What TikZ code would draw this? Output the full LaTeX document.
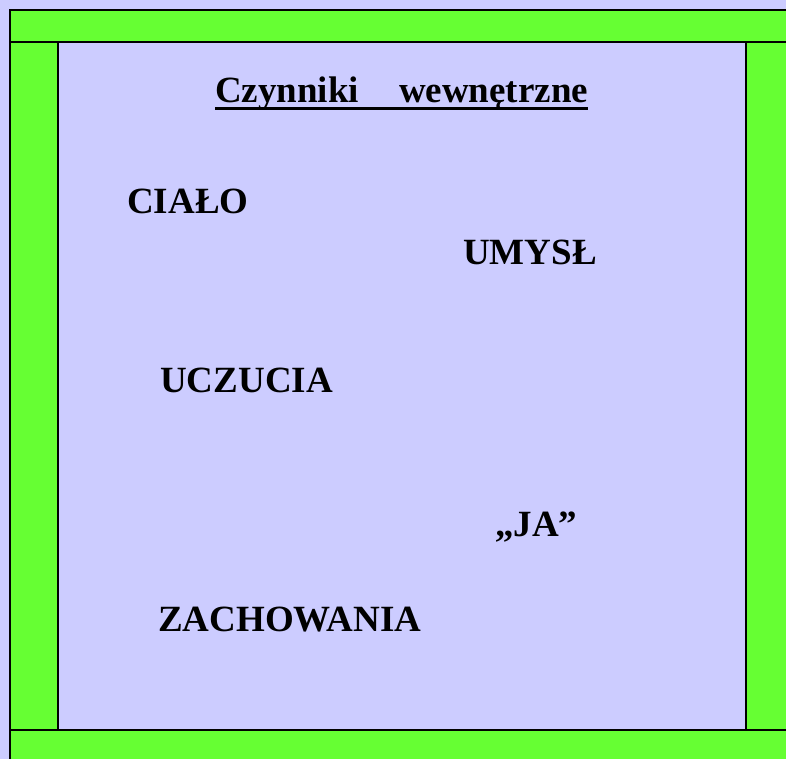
\documentclass[tikz,border=0pt]{standalone}
\usepackage{fontspec}
\setmainfont{Liberation Serif}
\definecolor{bggreen}{HTML}{66FF33}
\definecolor{lav}{HTML}{CCCCFF}
\tikzset{
  lbl/.style={anchor=base west, inner sep=0pt, font=\fontsize{37}{44}\selectfont\bfseries},
  frameline/.style={draw=black, line width=2.6pt}
}
\begin{document}
\begin{tikzpicture}[x=1pt,y=-1pt]
\useasboundingbox (0,0) rectangle (786,759);
\clip (0,0) rectangle (786,759);
\fill[lav] (0,0) rectangle (786,759);
\fill[bggreen] (10,10) rectangle (800,775);
\fill[lav] (58,42) rectangle (746,730);
\draw[frameline] (10,775) -- (10,10) -- (800,10);
\draw[frameline] (10,42) -- (800,42);
\draw[frameline] (10,730) -- (800,730);
\draw[frameline] (58,42) -- (58,730);
\draw[frameline] (746,42) -- (746,730);
\node[lbl] (title) at (215,103) {Czynniki\hspace{40pt}wewnętrzne};
\draw[line width=3pt] ([yshift=-6pt]title.base west) -- ([yshift=-6pt]title.base east);
\node[lbl] (cialo) at (127,214) {CIAŁO};
\node[lbl] (umysl) at (463,264) {UMYSŁ};
\node[lbl] (uczucia) at (160,392) {UCZUCIA};
\node[lbl] (ja) at (495,536) {„JA”};
\node[lbl] (zach) at (158,631) {ZACHOWANIA};
\end{tikzpicture}
\end{document}
